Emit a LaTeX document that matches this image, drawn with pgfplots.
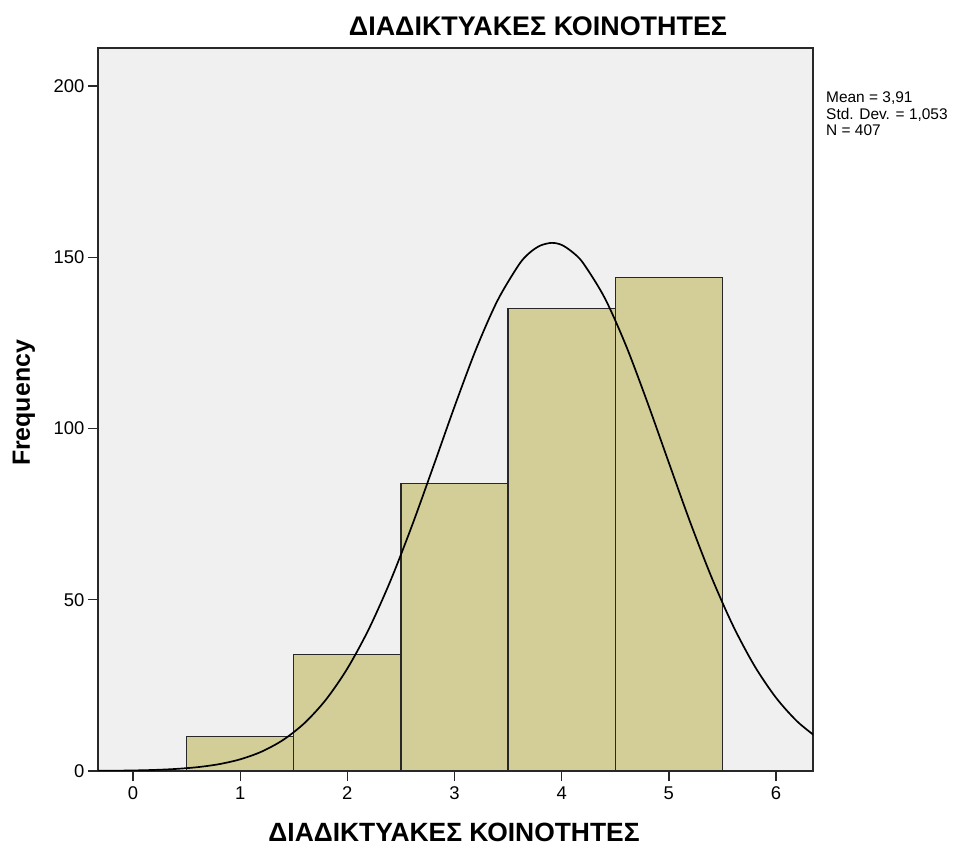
\documentclass[border=0pt]{standalone}
\usepackage{pgfplots}
\pgfplotsset{compat=1.18}
\usepackage{fontspec}
\setmainfont{Liberation Sans}
\definecolor{bg}{RGB}{240,240,240}
\definecolor{barfill}{RGB}{211,206,151}
\definecolor{edge}{RGB}{40,40,40}
\begin{document}
\begin{tikzpicture}[x=1bp,y=1bp]
\path[use as bounding box] (-98,-75) rectangle (875,771);
\begin{axis}[
  at={(0,0)}, anchor=south west,
  scale only axis, width=715bp, height=723bp,
  xmin=-0.327, xmax=6.345, ymin=0, ymax=211.1,
  axis background/.style={fill=bg},
  axis line style={draw=edge, line width=1.6pt},
  xtick={0,1,2,3,4,5,6}, ytick={0,50,100,150,200},
  tick align=outside, major tick length=10bp,
  tick style={draw=edge, line width=1.4pt},
  xtick pos=bottom, ytick pos=left,
  /pgf/number format/assume math mode=true,
  ticklabel style={font=\fontsize{18.5}{20}\selectfont},
  xticklabel style={yshift=-2bp},
  yticklabel style={xshift=0bp},
  clip=true,
]
\addplot[ybar interval, fill=barfill, draw=edge, line width=1.4pt]
  coordinates {(0.5,10) (1.5,34) (2.5,84) (3.5,135) (4.5,144) (5.5,0)};
\addplot[smooth, black, line width=1.7pt, no marks] coordinates {
(-0.4,0.036) (-0.2,0.077) (0,0.158) (0.2,0.314) (0.4,0.602) (0.6,1.113)
(0.8,1.98) (1.0,3.41) (1.2,5.66) (1.4,9.06) (1.6,13.99) (1.8,20.83)
(2.0,29.92) (2.2,41.43) (2.4,55.37) (2.6,71.38) (2.8,88.74) (3.0,106.4)
(3.2,123.1) (3.4,137.3) (3.6,147.8) (3.7,151.3) (3.8,153.4) (3.907,154.2) (4.0,153.6)
(4.1,151.5) (4.2,148.3) (4.4,138.2) (4.6,124.2) (4.8,107.6) (5.0,90.0) (5.2,72.55)
(5.4,56.43) (5.6,42.34) (5.8,30.64) (6.0,21.39) (6.2,14.40) (6.4,9.35)
};
\end{axis}
\node[font=\bfseries\fontsize{27}{30}\selectfont] at (440,745) {ΔΙΑΔΙΚΤΥΑΚΕΣ ΚΟΙΝΟΤΗΤΕΣ};
\node[font=\bfseries\fontsize{25}{28}\selectfont, rotate=90] at (-74,368) {Frequency};
\node[font=\bfseries\fontsize{26.5}{28}\selectfont] at (356,-61) {ΔΙΑΔΙΚΤΥΑΚΕΣ ΚΟΙΝΟΤΗΤΕΣ};
\node[font=\fontsize{15.5}{16.5}\selectfont, anchor=north west, align=left, inner sep=0pt] at (728,679) {Mean = 3,91\\Std. Dev. = 1,053\\N = 407};
\end{tikzpicture}
\end{document}
